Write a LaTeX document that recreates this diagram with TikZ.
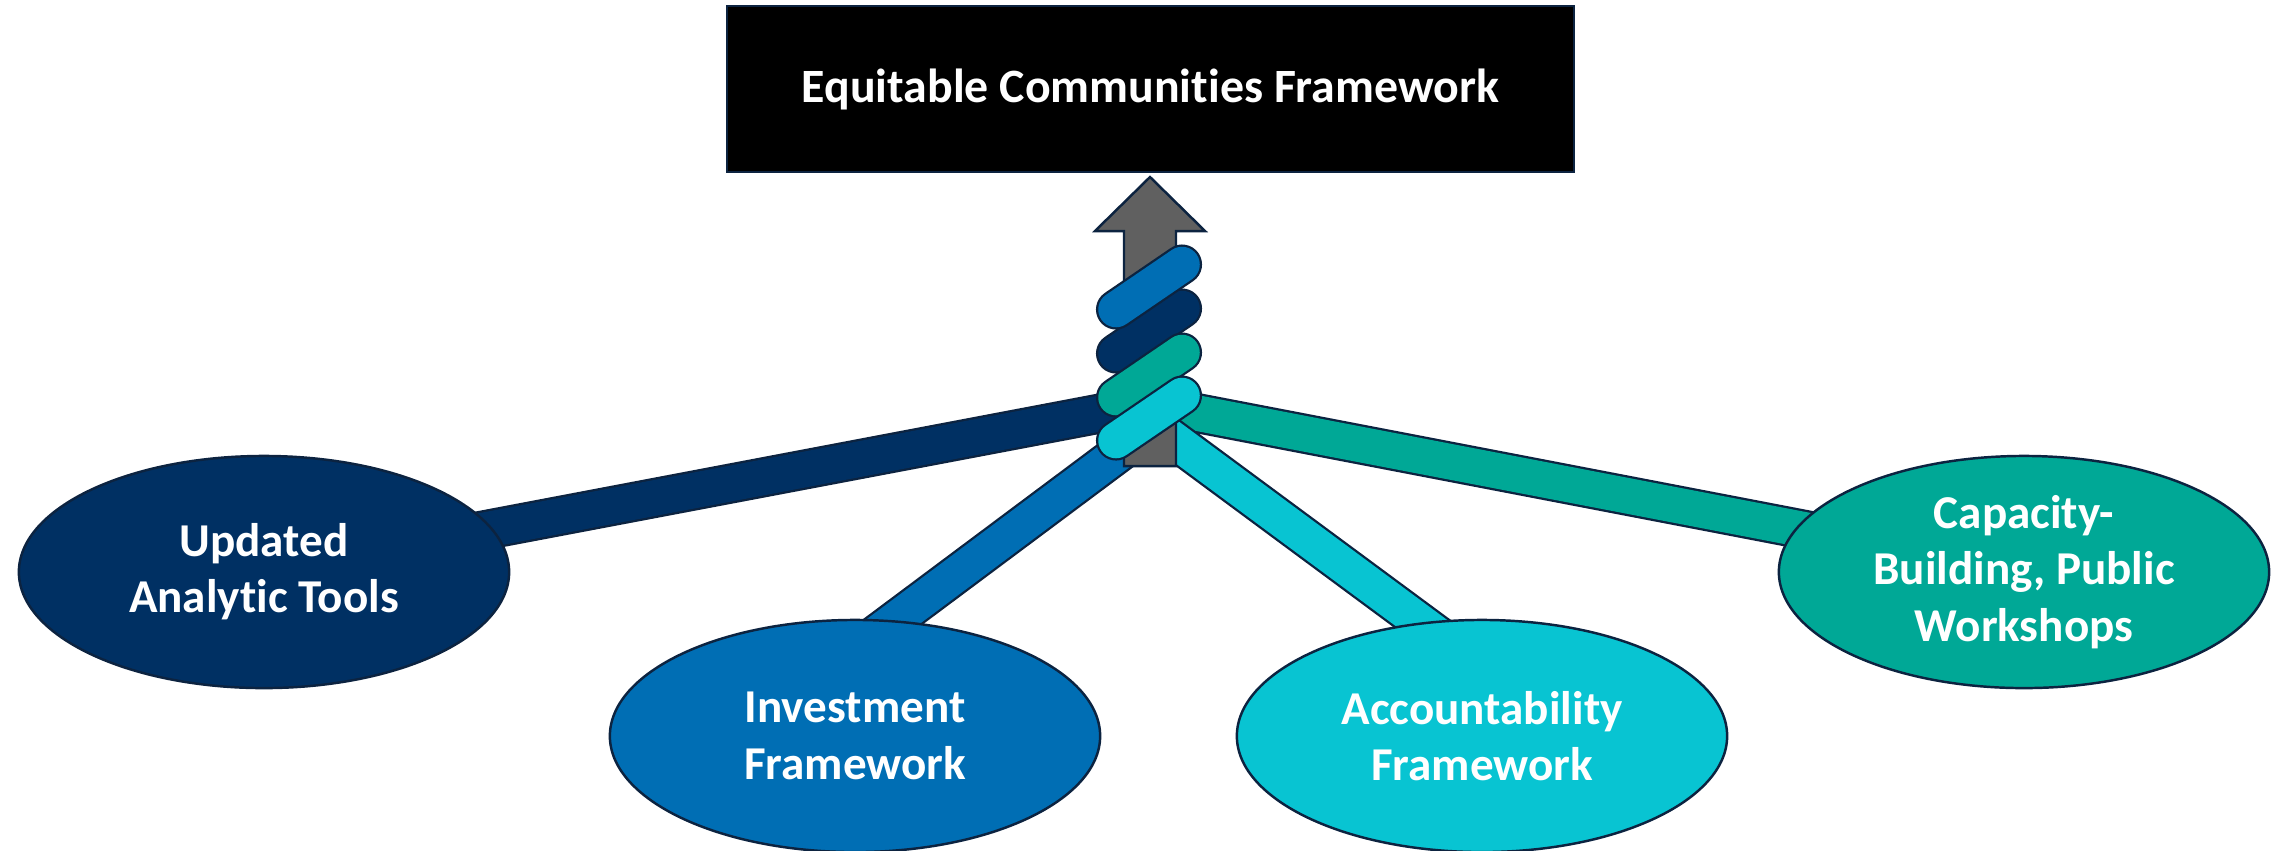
\documentclass[tikz,border=0pt]{standalone}
\usepackage{fontspec}
\setmainfont{Carlito}[Ligatures=NoCommon]
\usetikzlibrary{shapes.geometric,backgrounds}
\definecolor{navyc}{RGB}{0,48,99}
\definecolor{bluec}{RGB}{0,110,180}
\definecolor{tealc}{RGB}{0,168,150}
\definecolor{cyanc}{RGB}{8,196,210}
\definecolor{grayc}{RGB}{96,96,96}
\definecolor{edgec}{RGB}{12,35,64}
\begin{document}
\begin{tikzpicture}[x=0.01cm,y=-0.01cm,
    oval/.style={ellipse,draw=edgec,line width=0.7pt,fill=#1,minimum width=4.9cm,
        minimum height=2.32cm,inner sep=0pt,text=white,align=center,
        font=\bfseries\fontsize{13.4}{16}\selectfont},
    band/.style={draw=edgec,line width=0.65pt,double=#1,double distance=10.1pt},
    pill/.style={draw=edgec,line width=0.65pt,double=#1,double distance=10.1pt,line cap=round}]
    \useasboundingbox (0,0) rectangle (2278,850);

    %the goal on top
    \node[draw=edgec,line width=0.7pt,fill=black,minimum width=8.47cm,minimum height=1.66cm,
          text=white,font=\bfseries\fontsize{13.6}{16}\selectfont]
          (goal) at (1150.5,89) {Equitable Communities Framework};

    %the four strands
    \node[oval=navyc] (upd) at (264,572)  {Updated\\Analytic Tools};
    \node[oval=bluec] (inv) at (855,736)  {Investment\\Framework};
    \node[oval=cyanc] (acc) at (1482,736) {Accountability\\Framework};
    \node[oval=tealc] (cap) at (2024,572) {Capacity-\\Building, Public\\Workshops};

    \coordinate (knot)  at (1150,404);
    \coordinate (twist) at (1155,426);
    \coordinate (invin) at (855,650);
    \coordinate (accin) at (1458,650);

    %bands run under the ovals
    \begin{scope}[on background layer]
    \draw[band=navyc] (knot)  -- (upd.center);
    \draw[band=tealc] (knot)  -- (cap.center);
    \draw[band=bluec] (twist) -- (invin);
    \draw[band=cyanc] (twist) -- (accin);
    \end{scope}

    %the arrow
    \draw[fill=grayc,draw=edgec,line width=0.7pt]
        (1124,466) -- (1124,231) -- (1095,231) -- (1150,177) --
        (1205,231) -- (1176,231) -- (1176,466) -- cycle;

    %the twisted pieces round the arrow
    \foreach \c/\y in {navyc/331,bluec/287,tealc/375,cyanc/418}
        \draw[pill=\c] (1116,\y+22.5) -- (1182,\y-22.5);
\end{tikzpicture}
\end{document}
